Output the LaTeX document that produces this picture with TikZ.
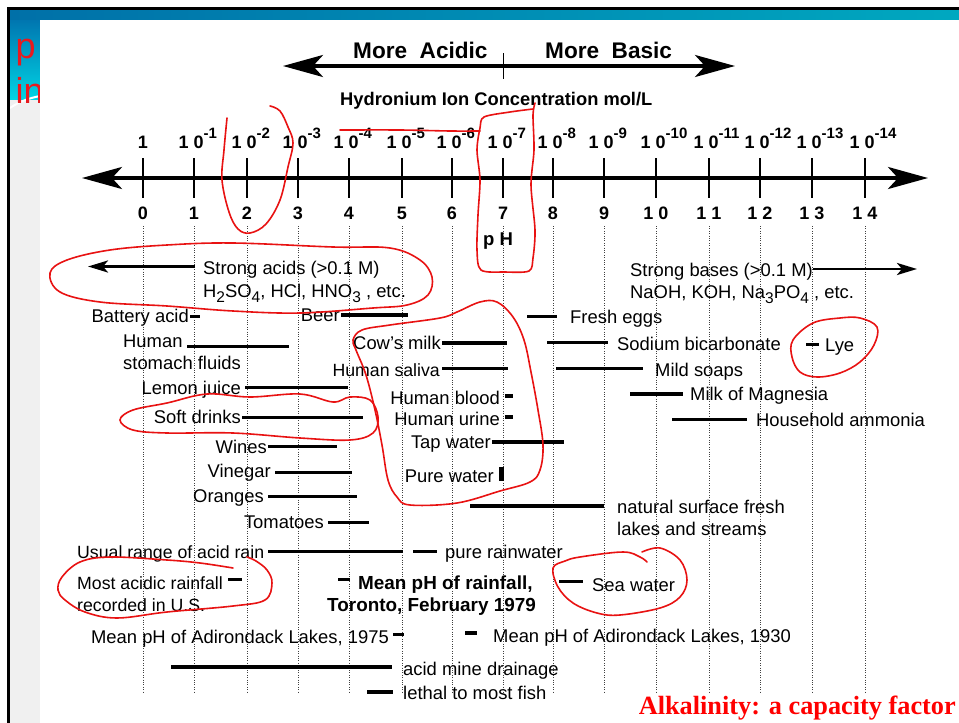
\documentclass[tikz,border=0pt]{standalone}
\usepackage{fontspec}
\setmainfont{Liberation Sans}
\newfontfamily\titleserif{Liberation Serif}
\usetikzlibrary{arrows.meta}
\definecolor{annred}{RGB}{232,18,18}
\definecolor{titlered}{RGB}{255,0,0}
\definecolor{slidered}{RGB}{232,25,30}
\definecolor{bandA}{RGB}{0,112,168}
\definecolor{bandB}{RGB}{0,168,192}
\definecolor{stripA}{RGB}{0,118,176}
\definecolor{stripB}{RGB}{0,212,228}
\newcommand{\supx}[1]{\raisebox{10pt}{\fontsize{15}{15}\selectfont #1}}
\newcommand{\subx}[1]{\raisebox{-5pt}{\fontsize{15.5}{15}\selectfont #1}}
\tikzset{
  lbl/.style={inner sep=0pt, font=\fontsize{18.4}{21}\selectfont},
  slbl/.style={inner sep=0pt, font=\fontsize{17.7}{21}\selectfont},
  blbl/.style={inner sep=0pt, font=\bfseries\fontsize{18.9}{21}\selectfont},
  numlbl/.style={inner sep=0pt, font=\bfseries\fontsize{18}{20}\selectfont},
  bar/.style={line width=3.2pt},
  tickmark/.style={line width=2pt},
  dotline/.style={line width=0.7pt, black!75, dash pattern=on 0.8pt off 1.6pt},
  ann/.style={annred, line width=1.6pt, line cap=round, line join=round},
  bigarrows/.style={line width=3.2pt, arrows={Stealth[length=40pt,width=22pt,inset=10pt]-Stealth[length=40pt,width=22pt,inset=10pt]}},
  smalltip/.style={line width=2.8pt, arrows={-Stealth[length=20pt,width=12pt,inset=5pt]}}
}
\begin{document}
\begin{tikzpicture}[x=1pt,y=-1pt]
\useasboundingbox (0,0) rectangle (959,723);
\fill[white] (0,0) rectangle (959,723);
% slide decoration
\fill[left color=bandA,right color=bandB] (10,9) rectangle (959,20);
\fill[top color=stripA,bottom color=stripB] (10,20) rectangle (40,100);
\fill[gray!12] (10,100) rectangle (40,723);
\draw[white,line width=2pt] (10,108) .. controls (20,101) and (30,98) .. (40,96);
\node[anchor=base west,inner sep=0pt,text=slidered,font=\fontsize{36}{36}\selectfont] (tp) at (15.5,58) {p};
\node[anchor=base west,inner sep=0pt,text=slidered,font=\fontsize{36}{36}\selectfont] (tin) at (15.5,103) {in};
\fill[white] (40,20) rectangle (959,723);
\draw[line width=3pt] (8.5,723) -- (8.5,8) -- (959,8);

% More acidic / more basic
\coordinate (accL) at (283,66);
\coordinate (accR) at (735,66);
\draw[bigarrows] (accL) -- (accR);
\coordinate (midT) at (503,53);
\coordinate (midB) at (503,79);
\draw[line width=0.8pt] (midT) -- (midB);
\node[anchor=base west,inner sep=0pt,font=\bfseries\fontsize{22.6}{24}\selectfont] (macid) at (353,58) {More\ \ Acidic};
\node[anchor=base west,inner sep=0pt,font=\bfseries\fontsize{22.6}{24}\selectfont] (mbasic) at (545,58) {More\ \ Basic};
\node[anchor=base west,inner sep=0pt,font=\bfseries\fontsize{18.3}{20}\selectfont] (hyd) at (340,105) {Hydronium Ion Concentration mol/L};

% dotted guide lines
\foreach \x in {143,194,247,298,349,402,452,503,553,604,656,709,760,812,865}
  \draw[dotline] (\x,226) -- (\x,692);

% axis
\coordinate (axL) at (82,178);
\coordinate (axR) at (928,178);
\draw[bigarrows,line width=3.5pt] (axL) -- (axR);
\foreach \x in {143,194,247,298,349,402,452,503,553,604,656,709,760,812,865}
  \draw[tickmark] (\x,158) -- (\x,198);

% concentration labels
\node[numlbl,anchor=base] (c0) at (143,148) {1};
\foreach \x/\n in {194/1,247/2,298/3,349/4,402/5,452/6,503/7,553/8,604/9,656/10,709/11,760/12,812/13,865/14}
  \node[numlbl,anchor=base west] (c\n) at (\x-15.5,148) {1 0\supx{-\n}};

% pH labels
\foreach \x/\n in {143/0,194/1,247/2,298/3,349/4,402/5,452/6,503/7,553/8,604/9}
  \node[numlbl,anchor=base] (p\n) at (\x,219) {\n};
\node[numlbl,anchor=base] (p10) at (656,219) {1 0};
\node[numlbl,anchor=base] (p11) at (709,219) {1 1};
\node[numlbl,anchor=base] (p12) at (760,219) {1 2};
\node[numlbl,anchor=base] (p13) at (812,219) {1 3};
\node[numlbl,anchor=base] (p14) at (865,219) {1 4};
\node[anchor=base,inner sep=0pt,font=\bfseries\fontsize{18.5}{20}\selectfont] (phl) at (498,245) {p H};

% strong acids / bases
\node[lbl,anchor=base west] (sa1) at (203,274) {Strong acids (>0.1 M)};
\node[lbl,anchor=base west] (sa2) at (203,297) {H\subx{2}SO\subx{4}, HCl, HNO\subx{3} , etc.};
\coordinate (saS) at (195,266.5);
\coordinate (saE) at (88,266.5);
\draw[smalltip] (saS) -- (saE);
\node[lbl,anchor=base west] (sb1) at (630,276) {Strong bases (>0.1 M)};
\node[lbl,anchor=base west] (sb2) at (630,298) {NaOH, KOH, Na\subx{3}PO\subx{4} , etc.};
\coordinate (sbS) at (813,269);
\coordinate (sbE) at (917,269);
\draw[smalltip] (sbS) -- (sbE);

% left column items
\node[lbl,anchor=base east] (batt) at (189,322) {Battery acid};
\draw[bar] (190,316.7) -- (200,316.7);
\node[lbl,anchor=base east] (beer) at (340,321) {Beer};
\draw[bar] (341,315) -- (408,315);
\node[lbl,anchor=base west] (hum1) at (123,347) {Human};
\node[lbl,anchor=base west] (hum2) at (123,369) {stomach fluids};
\draw[bar] (187,346.5) -- (289,346.5);
\node[lbl,anchor=base east] (lemon) at (241,394) {Lemon juice};
\draw[bar] (245,387.7) -- (348,387.7);
\node[lbl,anchor=base east] (soft) at (241,423) {Soft drinks};
\draw[bar] (242,417.5) -- (363,417.5);
\node[lbl,anchor=base east] (wines) at (267,453) {Wines};
\draw[bar] (268,446.7) -- (337,446.7);
\node[lbl,anchor=base east] (vineg) at (271,477) {Vinegar};
\draw[bar] (275,472.3) -- (352,472.3);
\node[lbl,anchor=base east] (orang) at (264,502) {Oranges};
\draw[bar] (268,496.5) -- (357,496.5);
\node[lbl,anchor=base east] (tomat) at (324,528) {Tomatoes};
\draw[bar] (328,522.5) -- (369,522.5);
\node[slbl,anchor=base west] (arain) at (77,558) {Usual range of acid rain};
\draw[bar] (268,551.5) -- (403,551.5);
\draw[bar] (413,551.5) -- (437,551.5);
\node[lbl,anchor=base west] (prain) at (445,558) {pure rainwater};
\node[slbl,anchor=base west] (mac1) at (77,589) {Most acidic rainfall};
\node[slbl,anchor=base west] (mac2) at (77,611) {recorded in U.S.};
\draw[bar] (228,579.5) -- (242,579.5);
\draw[bar] (338,579.5) -- (350,579.5);
\node[blbl,anchor=base west] (tor1) at (358,589) {Mean pH of rainfall,};
\node[blbl,anchor=base west] (tor2) at (327,611) {Toronto, February 1979};
\node[lbl,anchor=base east] (adk1) at (389,643) {Mean pH of Adirondack Lakes, 1975};
\draw[bar] (393,634.5) -- (404,634.5);
\draw[bar] (465,633) -- (477,633);
\node[lbl,anchor=base west] (adk2) at (493,642) {Mean pH of Adirondack Lakes, 1930};
\draw[bar] (171,667) -- (392,667);
\node[lbl,anchor=base west] (amd) at (403,675) {acid mine drainage};
\draw[bar] (367,692) -- (393,692);
\node[lbl,anchor=base west] (fish) at (403,699) {lethal to most fish};

% middle items
\node[lbl,anchor=base east] (milk) at (441,349) {Cow's milk};
\draw[bar] (442,343) -- (507,343);
\node[slbl,anchor=base east] (saliva) at (440,376) {Human saliva};
\draw[bar] (442,368.7) -- (508,368.7);
\node[lbl,anchor=base east] (blood) at (500,404.5) {Human blood};
\draw[bar] (505,396) -- (513,396);
\node[lbl,anchor=base east] (urine) at (500,425.5) {Human urine};
\draw[bar] (505,417) -- (513,417);
\node[lbl,anchor=base east] (tap) at (491,448) {Tap water};
\draw[bar] (492,442) -- (564,442);
\node[lbl,anchor=base east] (pure) at (494,482) {Pure water};
\fill (499,467) rectangle (503.5,481);

% right items
\draw[bar] (527,316.7) -- (557,316.7);
\node[lbl,anchor=base west] (eggs) at (570,323) {Fresh eggs};
\draw[bar] (547,342.7) -- (608,342.7);
\node[lbl,anchor=base west] (soda) at (617,350) {Sodium bicarbonate};
\draw[bar] (556,368.3) -- (643,368.3);
\node[lbl,anchor=base west] (soap) at (655,376) {Mild soaps};
\draw[bar] (630,394) -- (683,394);
\node[lbl,anchor=base west] (mom) at (690,400) {Milk of Magnesia};
\draw[bar] (672,419.3) -- (747,419.3);
\node[lbl,anchor=base west] (ammo) at (756,426) {Household ammonia};
\draw[bar] (806,344.3) -- (819,344.3);
\node[lbl,anchor=base west] (lye) at (825,351) {Lye};
\draw[bar] (470,506) -- (604,506);
\node[lbl,anchor=base west] (nat1) at (617,513) {natural surface fresh};
\node[lbl,anchor=base west] (nat2) at (617,535) {lakes and streams};
\draw[bar] (559,581.7) -- (583,581.7);
\node[lbl,anchor=base west] (sea) at (592,591) {Sea water};

% title
\node[anchor=base east,inner sep=0pt,text=titlered,font=\titleserif\bfseries\fontsize{26.3}{27}\selectfont] (title) at (956,714) {Alkalinity: a capacity factor};

% hand-drawn red annotations
\draw[ann] plot[smooth,tension=0.6] coordinates {(227,118) (224,150) (222,180) (229,212) (238,229) (250,233) (266,224) (280,200) (288,167) (293,143) (288,127) (280,111) (270,106)};
\draw[ann] plot[smooth,tension=0.5] coordinates {(340,130) (400,130) (450,131) (480,131)};
\draw[ann] plot[smooth,tension=0.5] coordinates {(535,103) (533,115) (534,150) (531,185) (535,230) (533,258) (529,271) (505,272) (481,270) (477,250) (478,215) (480,180) (477,150) (480,128) (484,117) (510,112) (533,109)};
\draw[ann] plot[smooth cycle,tension=0.6] coordinates {(50,273) (67,260) (110,250) (167,245) (233,243) (333,247) (390,248) (420,260) (432,277) (428,295) (407,305) (373,308) (300,313) (233,311) (167,306) (100,302) (60,292)};
\draw[ann] plot[smooth cycle,tension=0.6] coordinates {(120,420) (133,410) (167,403) (207,394) (250,397) (300,394) (333,402) (350,397) (370,400) (378,417) (373,433) (350,440) (300,438) (233,433) (167,433) (133,430)};
\draw[ann] plot[smooth cycle,tension=0.6] coordinates {(353,340) (362,330) (390,325) (440,318) (457,312) (480,302) (497,302) (513,317) (524,340) (531,372) (538,410) (543,445) (540,470) (530,482) (500,491) (457,503) (410,505) (397,497) (388,480) (382,445) (375,410) (366,375) (356,350)};
\draw[ann] plot[smooth cycle,tension=0.6] coordinates {(793,340) (813,323) (840,318) (860,318) (877,327) (874,345) (860,362) (840,373) (817,377) (800,372) (792,357)};
\draw[ann] plot[smooth,tension=0.6] coordinates {(233,568) (200,563) (167,560) (110,557) (80,562) (62,577) (58,590) (65,600) (85,612) (117,618) (167,612) (233,606) (265,600) (272,583) (267,570) (256,561) (247,557)};
\draw[ann] plot[smooth,tension=0.6] coordinates {(642,552) (660,548) (680,560) (687,580) (680,597) (660,608) (620,615) (597,613) (573,603) (558,587) (553,568) (565,561) (580,557) (623,552) (640,557) (647,562)};
\end{tikzpicture}
\end{document}
